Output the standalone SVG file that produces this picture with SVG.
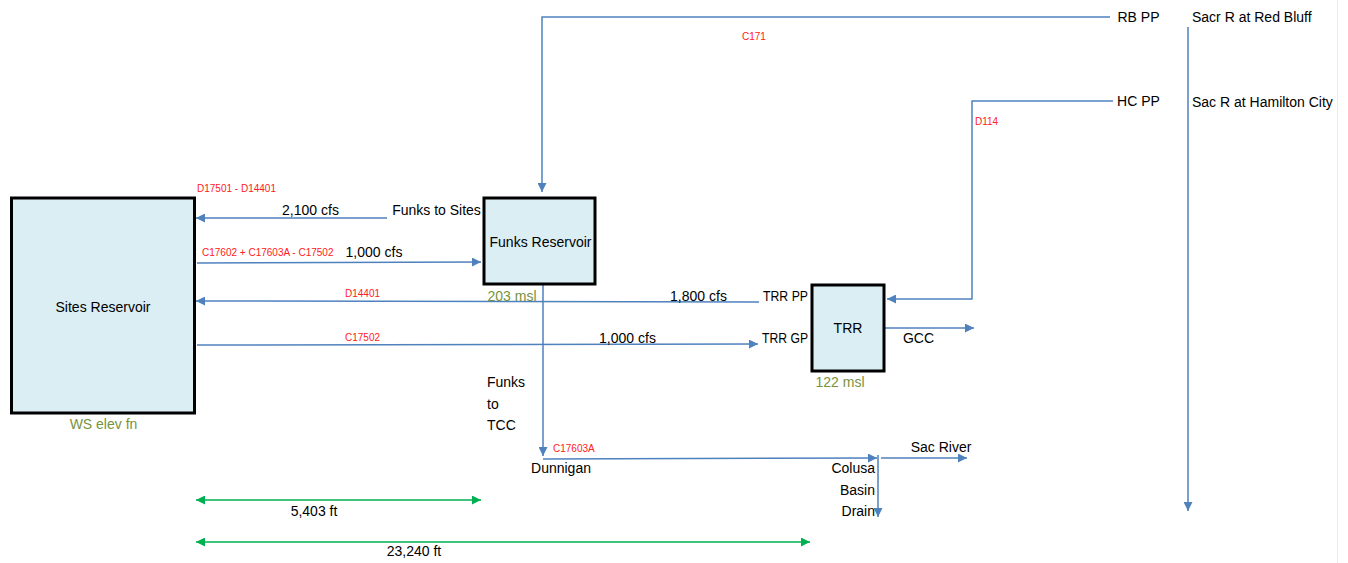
<svg xmlns="http://www.w3.org/2000/svg" width="1348" height="563" viewBox="0 0 1348 563">
<style>
.box{fill:#dbeef3;stroke:#000;stroke-width:3}
.t{font-family:"Liberation Sans",Arial,sans-serif;font-size:14px;fill:#000}
.m{text-anchor:middle}
.e{text-anchor:end}
.r{font-family:"Liberation Sans",Arial,sans-serif;font-size:10px;fill:#ff2020}
.g{font-family:"Liberation Sans",Arial,sans-serif;font-size:14px;fill:#77933c;text-anchor:middle}
.c{fill:none;stroke:#4f81bd;stroke-width:1.5}
.d{fill:none;stroke:#00b050;stroke-width:1.5}
</style>
<defs>
<marker id="ab" markerUnits="userSpaceOnUse" markerWidth="9" markerHeight="9" refX="9" refY="4.5" orient="auto"><path d="M0,0 L9,4.5 L0,9 z" fill="#4f81bd"/></marker>
<marker id="ag" markerUnits="userSpaceOnUse" markerWidth="9" markerHeight="9" refX="9" refY="4.5" orient="auto-start-reverse"><path d="M0,0 L9,4.5 L0,9 z" fill="#00b050"/></marker>
</defs>
<rect x="0" y="0" width="1348" height="563" fill="#fff"/>
<line x1="1337.5" y1="0" x2="1337.5" y2="563" stroke="#ececec" stroke-width="1"/>

<g id="connectors">
<polyline class="c" points="1110,17 542,17 542,192" marker-end="url(#ab)"/>
<polyline class="c" points="1113,101 972,101 972,299 887,299" marker-end="url(#ab)"/>
<line class="c" x1="1188" y1="27" x2="1188" y2="511" marker-end="url(#ab)"/>
<line class="c" x1="387" y1="218" x2="196" y2="218" marker-end="url(#ab)"/>
<line class="c" x1="197" y1="263" x2="481" y2="262" marker-end="url(#ab)"/>
<line class="c" x1="759" y1="302" x2="196" y2="301" marker-end="url(#ab)"/>
<line class="c" x1="197" y1="345" x2="758" y2="344" marker-end="url(#ab)"/>
<line class="c" x1="885" y1="328" x2="974" y2="328" marker-end="url(#ab)"/>
<line class="c" x1="543" y1="285" x2="543" y2="456" marker-end="url(#ab)"/>
<line class="c" x1="543" y1="459" x2="877" y2="458" marker-end="url(#ab)"/>
<line class="c" x1="881" y1="458" x2="967" y2="458" marker-end="url(#ab)"/>
<line class="c" x1="878" y1="455" x2="878" y2="517" marker-end="url(#ab)"/>
<line class="d" x1="196" y1="500" x2="481" y2="500" marker-start="url(#ag)" marker-end="url(#ag)"/>
<line class="d" x1="196" y1="542" x2="810" y2="542" marker-start="url(#ag)" marker-end="url(#ag)"/>
</g>

<g id="sites">
<rect class="box" x="11.5" y="198" width="183" height="215"/>
<text class="t m" x="103" y="312">Sites Reservoir</text>
<text class="g" x="103.5" y="429">WS elev fn</text>
</g>
<g id="funks">
<rect class="box" x="484" y="198" width="111" height="86"/>
<text class="t m" x="540.5" y="247">Funks Reservoir</text>
<text class="g" x="512" y="301">203 msl</text>
</g>
<g id="trr">
<rect class="box" x="812" y="285" width="72" height="86"/>
<text class="t m" x="848" y="333">TRR</text>
<text class="g" x="840" y="387">122 msl</text>
</g>

<g id="labels">
<text class="t m" x="1138.5" y="22">RB PP</text>
<text class="t m" x="1138.5" y="106">HC PP</text>
<text class="t" x="1192" y="22">Sacr R at Red Bluff</text>
<text class="t" x="1192" y="107">Sac R at Hamilton City</text>
<text class="r" x="742" y="40">C171</text>
<text class="r" x="975" y="125">D114</text>
<text class="r" x="197" y="192">D17501 - D14401</text>
<text class="t m" x="310.5" y="215">2,100 cfs</text>
<text class="t m" x="436.5" y="215">Funks to Sites</text>
<text class="r" x="202" y="256">C17602 + C17603A - C17502</text>
<text class="t m" x="374" y="257">1,000 cfs</text>
<text class="r" x="345" y="297">D14401</text>
<text class="t m" x="698.5" y="301">1,800 cfs</text>
<text class="t" x="763" y="301" textLength="45" lengthAdjust="spacingAndGlyphs">TRR PP</text>
<text class="r" x="345" y="341">C17502</text>
<text class="t m" x="627.5" y="343">1,000 cfs</text>
<text class="t" x="762" y="343" textLength="46" lengthAdjust="spacingAndGlyphs">TRR GP</text>
<text class="t m" x="918.5" y="343">GCC</text>
<text class="t" x="487" y="387">Funks</text>
<text class="t" x="487" y="409">to</text>
<text class="t" x="487" y="430">TCC</text>
<text class="r" x="553" y="452">C17603A</text>
<text class="t m" x="561" y="473">Dunnigan</text>
<text class="t m" x="941" y="452">Sac River</text>
<text class="t e" x="875" y="473">Colusa</text>
<text class="t e" x="875" y="495">Basin</text>
<text class="t e" x="875" y="516">Drain</text>
<text class="t m" x="314" y="516">5,403 ft</text>
<text class="t m" x="414" y="556">23,240 ft</text>
</g>
</svg>
